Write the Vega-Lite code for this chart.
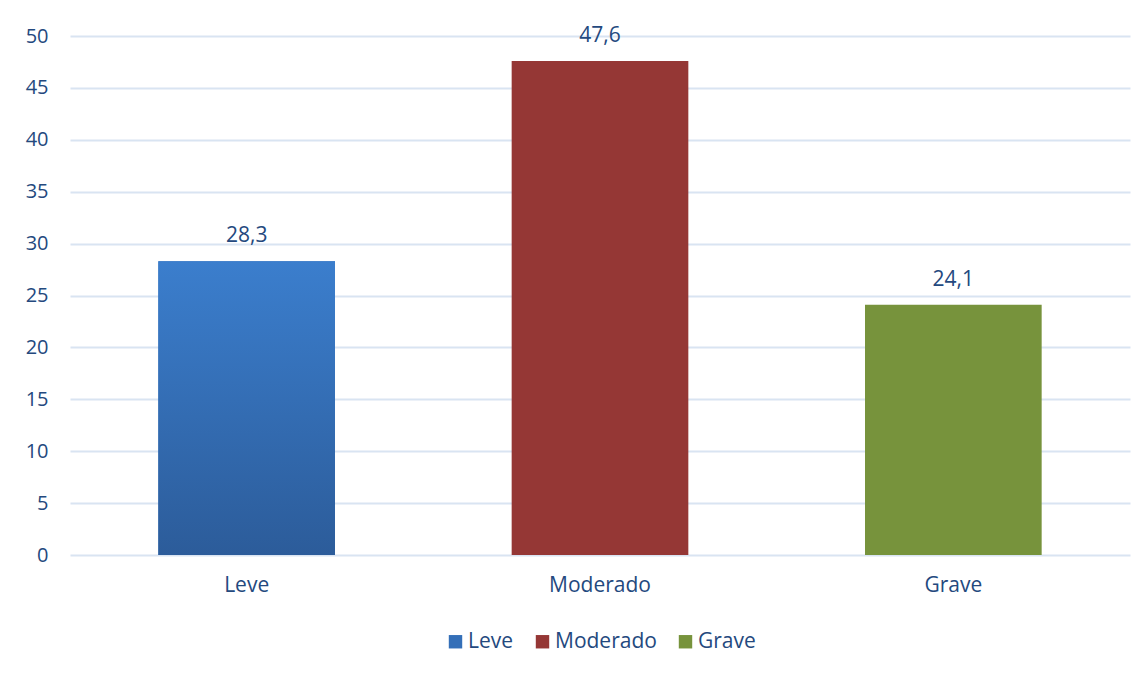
{
  "$schema": "https://vega.github.io/schema/vega-lite/v6.json",
  "width": 1060,
  "height": 519,
  "autosize": {"type": "none"},
  "padding": {"left": 70, "top": 36, "right": 15, "bottom": 120},
  "background": "white",
  "data": {
    "values": [
      {"grado": "Leve", "valor": 28.3},
      {"grado": "Moderado", "valor": 47.6},
      {"grado": "Grave", "valor": 24.1}
    ]
  },
  "encoding": {
    "x": {
      "field": "grado",
      "type": "nominal",
      "sort": ["Leve", "Moderado", "Grave"],
      "scale": {"paddingInner": 0.5, "paddingOuter": 0.25},
      "axis": {
        "title": null,
        "labelAngle": 0,
        "domain": false,
        "ticks": false,
        "labelPadding": 19,
        "labelFontSize": 21
      }
    },
    "y": {
      "field": "valor",
      "type": "quantitative",
      "scale": {"domain": [0, 50], "nice": false},
      "axis": {
        "title": null,
        "values": [0, 5, 10, 15, 20, 25, 30, 35, 40, 45, 50],
        "domain": false,
        "ticks": false,
        "labelPadding": 22,
        "labelFontSize": 20,
        "gridColor": "#d9e4f2",
        "gridWidth": 2
      }
    }
  },
  "layer": [
    {
      "mark": {"type": "bar"},
      "encoding": {
        "color": {
          "field": "grado",
          "type": "nominal",
          "sort": ["Leve", "Moderado", "Grave"],
          "scale": {
            "domain": ["Leve", "Moderado", "Grave"],
            "range": ["#346fb8", "#953735", "#77933c"]
          },
          "legend": {
            "title": null,
            "orient": "bottom",
            "direction": "horizontal",
            "symbolType": "square",
            "symbolSize": 180,
            "symbolStrokeWidth": 0,
            "symbolOpacity": 1,
            "labelFontSize": 21,
            "columnPadding": 18,
            "labelOffset": 2,
            "offset": 36
          }
        }
      }
    },
    {
      "transform": [{"filter": "datum.grado === 'Leve'"}],
      "mark": {
        "type": "bar",
        "color": {
          "gradient": "linear",
          "x1": 0, "y1": 0, "x2": 0, "y2": 1,
          "stops": [
            {"offset": 0, "color": "#3b7ecd"},
            {"offset": 1, "color": "#2c5c9a"}
          ]
        }
      }
    },
    {
      "mark": {"type": "text", "dy": -25, "fontSize": 21, "color": "#24497e"},
      "encoding": {
        "text": {"field": "valor", "type": "quantitative", "format": ".1f"}
      }
    }
  ],
  "config": {
    "locale": {
      "number": {
        "decimal": ",",
        "thousands": ".",
        "grouping": [3],
        "currency": ["", " €"]
      }
    },
    "font": "Open Sans",
    "view": {"stroke": null},
    "axis": {"labelColor": "#24497e", "labelFont": "Open Sans"},
    "legend": {
      "labelColor": "#24497e",
      "labelFont": "Open Sans",
      "layout": {"bottom": {"anchor": "middle"}}
    }
  }
}
